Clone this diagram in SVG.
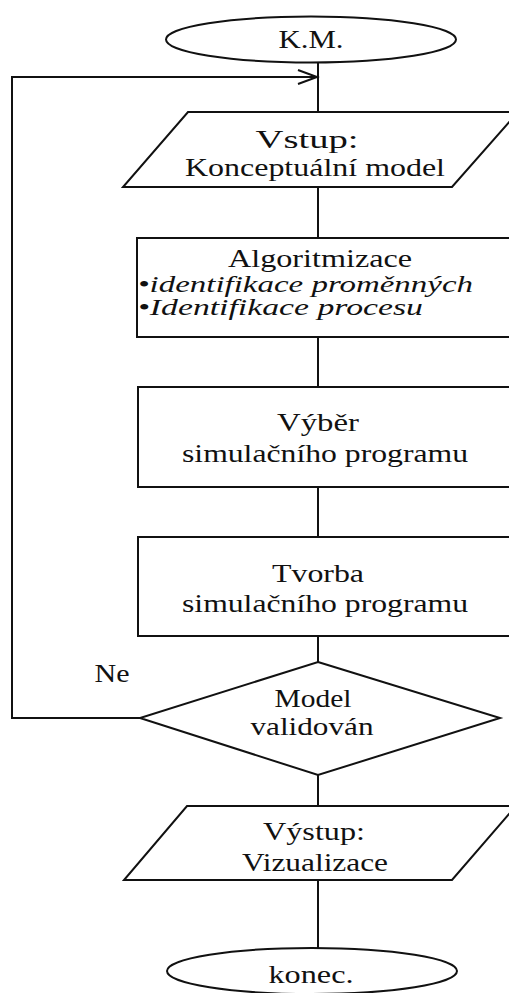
<svg xmlns="http://www.w3.org/2000/svg" width="509" height="993" viewBox="0 0 509 993">
<defs>
<style>
.s{fill:#fff;stroke:#111;stroke-width:2}
.c{fill:none;stroke:#111;stroke-width:2}
.t{font-family:"Liberation Serif","Times New Roman",Times,serif;font-size:25px;fill:#111;text-anchor:middle}
.i{font-family:"Liberation Serif","Times New Roman",Times,serif;font-size:23px;font-style:italic;fill:#111}
</style>
<marker id="arr" markerWidth="24" markerHeight="18" refX="20" refY="8" orient="auto" markerUnits="userSpaceOnUse">
<polyline points="1,1 20,8 1,15" fill="none" stroke="#111" stroke-width="2"/>
</marker>
</defs>
<rect width="509" height="993" fill="#fff"/>
<g id="connectors">
<line class="c" x1="318" y1="62" x2="318" y2="112"/>
<line class="c" x1="318" y1="187" x2="318" y2="238"/>
<line class="c" x1="318" y1="337" x2="318" y2="387"/>
<line class="c" x1="318" y1="487" x2="318" y2="537"/>
<line class="c" x1="318" y1="636" x2="318" y2="662"/>
<line class="c" x1="318" y1="775" x2="318" y2="806"/>
<line class="c" x1="318" y1="880" x2="318" y2="948"/>
<polyline class="c" points="140,718 12,718 12,77 317,77" marker-end="url(#arr)"/>
<text class="t" x="112" y="682" textLength="35" lengthAdjust="spacingAndGlyphs">Ne</text>
</g>
<g id="start">
<ellipse class="s" cx="311" cy="39.5" rx="145" ry="23"/>
<text class="t" x="311" y="48" textLength="65" lengthAdjust="spacingAndGlyphs">K.M.</text>
</g>
<g id="input">
<polygon class="s" points="188,112 518,112 452,187 123,187"/>
<text class="t" x="307" y="148" textLength="103" lengthAdjust="spacingAndGlyphs">Vstup:</text>
<text class="t" x="315" y="176" textLength="260" lengthAdjust="spacingAndGlyphs">Konceptuální model</text>
</g>
<g id="algoritmizace">
<rect class="s" x="137" y="238" width="380" height="99"/>
<text class="t" x="320" y="267" textLength="184" lengthAdjust="spacingAndGlyphs">Algoritmizace</text>
<text class="i" x="138" y="292" textLength="335" lengthAdjust="spacingAndGlyphs">•identifikace proměnných</text>
<text class="i" x="138" y="315" textLength="285" lengthAdjust="spacingAndGlyphs">•Identifikace procesu</text>
</g>
<g id="vyber">
<rect class="s" x="138" y="387" width="380" height="100"/>
<text class="t" x="318" y="431" textLength="82" lengthAdjust="spacingAndGlyphs">Výběr</text>
<text class="t" x="325" y="462" textLength="286" lengthAdjust="spacingAndGlyphs">simulačního programu</text>
</g>
<g id="tvorba">
<rect class="s" x="138" y="537" width="380" height="99"/>
<text class="t" x="318" y="582" textLength="92" lengthAdjust="spacingAndGlyphs">Tvorba</text>
<text class="t" x="325" y="612" textLength="286" lengthAdjust="spacingAndGlyphs">simulačního programu</text>
</g>
<g id="validace">
<polygon class="s" points="318,662 500,718 318,775 140,718"/>
<text class="t" x="313" y="707" textLength="77" lengthAdjust="spacingAndGlyphs">Model</text>
<text class="t" x="312" y="735" textLength="123" lengthAdjust="spacingAndGlyphs">validován</text>
</g>
<g id="output">
<polygon class="s" points="187,806 516,806 452,880 124,880"/>
<text class="t" x="314" y="840" textLength="102" lengthAdjust="spacingAndGlyphs">Výstup:</text>
<text class="t" x="315" y="871" textLength="146" lengthAdjust="spacingAndGlyphs">Vizualizace</text>
</g>
<g id="end">
<ellipse class="s" cx="312" cy="971" rx="145" ry="23"/>
<text class="t" x="311" y="983" textLength="85" lengthAdjust="spacingAndGlyphs">konec.</text>
</g>
</svg>
